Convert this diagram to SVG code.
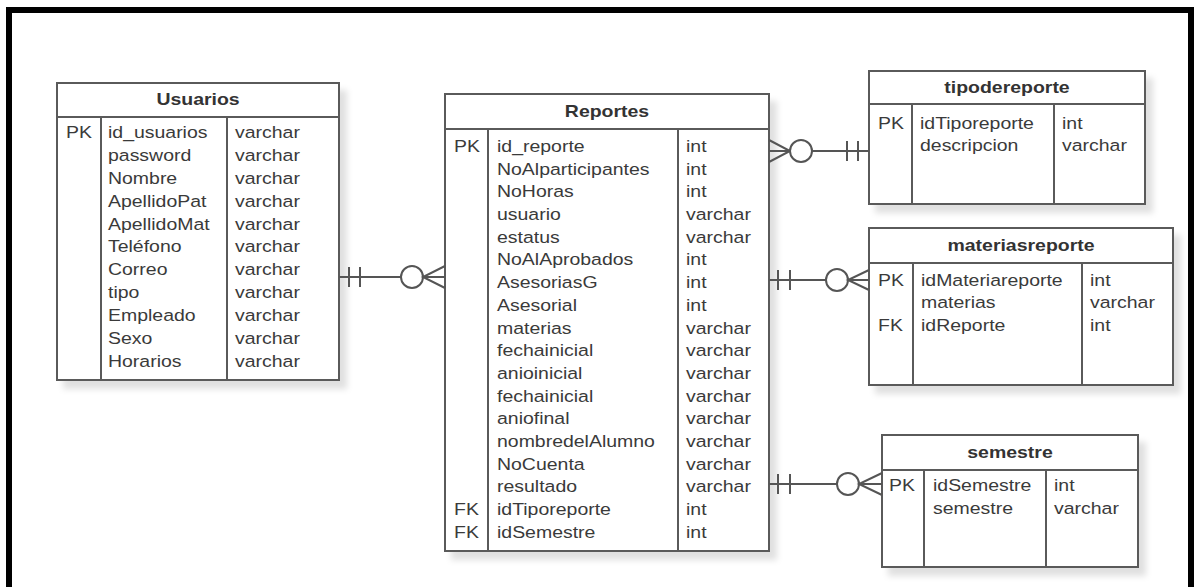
<svg xmlns="http://www.w3.org/2000/svg" width="1198" height="587" viewBox="0 0 1198 587">
<style>
.box{fill:#fff;stroke:#5a5a5a;stroke-width:2}
.ln{stroke:#5a5a5a;stroke-width:2;fill:none}
.t{font-family:"Liberation Sans",Arial,sans-serif;font-size:16.5px;fill:#3a3a3a}
.h{font-family:"Liberation Sans",Arial,sans-serif;font-size:16.5px;font-weight:bold;fill:#333;text-anchor:middle}
.c{stroke:#555;stroke-width:2;fill:none}
.o{stroke:#555;stroke-width:2;fill:#fff}
</style>
<defs>
<filter id="sh" x="-10%" y="-10%" width="130%" height="130%">
<feDropShadow dx="7" dy="8" stdDeviation="3" flood-color="#000" flood-opacity="0.12"/>
</filter>
</defs>
<rect x="0" y="0" width="1198" height="587" fill="#fff"/>
<rect x="9" y="10" width="1182" height="600" fill="none" stroke="#000" stroke-width="6"/>

<g id="Usuarios">
<rect class="box" x="57" y="83" width="282" height="297" filter="url(#sh)"/>
<line class="ln" x1="57" y1="117" x2="339" y2="117"/>
<line class="ln" x1="101" y1="117" x2="101" y2="380"/>
<line class="ln" x1="227" y1="117" x2="227" y2="380"/>
<g transform="translate(198 0) scale(1.18 1)"><text class="h" x="0" y="105.5">Usuarios</text></g>
<g transform="translate(66 0) scale(1.18 1)"><text class="t" x="0" y="138">PK</text></g>
<g transform="translate(108 0) scale(1.18 1)" class="t">
<text class="t" x="0" y="138">id_usuarios</text>
<text class="t" x="0" y="160.9">password</text>
<text class="t" x="0" y="183.8">Nombre</text>
<text class="t" x="0" y="206.7">ApellidoPat</text>
<text class="t" x="0" y="229.6">ApellidoMat</text>
<text class="t" x="0" y="252.5">Teléfono</text>
<text class="t" x="0" y="275.4">Correo</text>
<text class="t" x="0" y="298.3">tipo</text>
<text class="t" x="0" y="321.2">Empleado</text>
<text class="t" x="0" y="344.1">Sexo</text>
<text class="t" x="0" y="367">Horarios</text>
</g>
<g transform="translate(235 0) scale(1.18 1)">
<text class="t" x="0" y="138">varchar</text>
<text class="t" x="0" y="160.9">varchar</text>
<text class="t" x="0" y="183.8">varchar</text>
<text class="t" x="0" y="206.7">varchar</text>
<text class="t" x="0" y="229.6">varchar</text>
<text class="t" x="0" y="252.5">varchar</text>
<text class="t" x="0" y="275.4">varchar</text>
<text class="t" x="0" y="298.3">varchar</text>
<text class="t" x="0" y="321.2">varchar</text>
<text class="t" x="0" y="344.1">varchar</text>
<text class="t" x="0" y="367">varchar</text>
</g>
</g>

<g id="Reportes">
<rect class="box" x="445" y="94" width="324" height="457" filter="url(#sh)"/>
<line class="ln" x1="445" y1="129" x2="769" y2="129"/>
<line class="ln" x1="488" y1="129" x2="488" y2="551"/>
<line class="ln" x1="678" y1="129" x2="678" y2="551"/>
<g transform="translate(607 0) scale(1.18 1)"><text class="h" x="0" y="117">Reportes</text></g>
<g transform="translate(454 0) scale(1.18 1)">
<text class="t" x="0" y="152">PK</text>
<text class="t" x="0" y="515.2">FK</text>
<text class="t" x="0" y="537.9">FK</text>
</g>
<g transform="translate(497 0) scale(1.18 1)">
<text class="t" x="0" y="152">id_reporte</text>
<text class="t" x="0" y="174.7">NoAlparticipantes</text>
<text class="t" x="0" y="197.4">NoHoras</text>
<text class="t" x="0" y="220.1">usuario</text>
<text class="t" x="0" y="242.8">estatus</text>
<text class="t" x="0" y="265.5">NoAlAprobados</text>
<text class="t" x="0" y="288.2">AsesoriasG</text>
<text class="t" x="0" y="310.9">Asesorial</text>
<text class="t" x="0" y="333.6">materias</text>
<text class="t" x="0" y="356.3">fechainicial</text>
<text class="t" x="0" y="379">anioinicial</text>
<text class="t" x="0" y="401.7">fechainicial</text>
<text class="t" x="0" y="424.4">aniofinal</text>
<text class="t" x="0" y="447.1">nombredelAlumno</text>
<text class="t" x="0" y="469.8">NoCuenta</text>
<text class="t" x="0" y="492.5">resultado</text>
<text class="t" x="0" y="515.2">idTiporeporte</text>
<text class="t" x="0" y="537.9">idSemestre</text>
</g>
<g transform="translate(686 0) scale(1.18 1)">
<text class="t" x="0" y="152">int</text>
<text class="t" x="0" y="174.7">int</text>
<text class="t" x="0" y="197.4">int</text>
<text class="t" x="0" y="220.1">varchar</text>
<text class="t" x="0" y="242.8">varchar</text>
<text class="t" x="0" y="265.5">int</text>
<text class="t" x="0" y="288.2">int</text>
<text class="t" x="0" y="310.9">int</text>
<text class="t" x="0" y="333.6">varchar</text>
<text class="t" x="0" y="356.3">varchar</text>
<text class="t" x="0" y="379">varchar</text>
<text class="t" x="0" y="401.7">varchar</text>
<text class="t" x="0" y="424.4">varchar</text>
<text class="t" x="0" y="447.1">varchar</text>
<text class="t" x="0" y="469.8">varchar</text>
<text class="t" x="0" y="492.5">varchar</text>
<text class="t" x="0" y="515.2">int</text>
<text class="t" x="0" y="537.9">int</text>
</g>
</g>

<g id="tipodereporte">
<rect class="box" x="869" y="71" width="276" height="133" filter="url(#sh)"/>
<line class="ln" x1="869" y1="104" x2="1145" y2="104"/>
<line class="ln" x1="912" y1="104" x2="912" y2="204"/>
<line class="ln" x1="1054" y1="104" x2="1054" y2="204"/>
<g transform="translate(1007 0) scale(1.18 1)"><text class="h" x="0" y="93.5">tipodereporte</text></g>
<g transform="translate(878 0) scale(1.18 1)"><text class="t" x="0" y="129">PK</text></g>
<g transform="translate(920 0) scale(1.18 1)">
<text class="t" x="0" y="129">idTiporeporte</text>
<text class="t" x="0" y="151">descripcion</text>
</g>
<g transform="translate(1062 0) scale(1.18 1)">
<text class="t" x="0" y="129">int</text>
<text class="t" x="0" y="151">varchar</text>
</g>
</g>

<g id="materiasreporte">
<rect class="box" x="869" y="228" width="304" height="157" filter="url(#sh)"/>
<line class="ln" x1="869" y1="263" x2="1173" y2="263"/>
<line class="ln" x1="913" y1="263" x2="913" y2="385"/>
<line class="ln" x1="1082" y1="263" x2="1082" y2="385"/>
<g transform="translate(1021 0) scale(1.18 1)"><text class="h" x="0" y="251">materiasreporte</text></g>
<g transform="translate(878 0) scale(1.18 1)">
<text class="t" x="0" y="286">PK</text>
<text class="t" x="0" y="331">FK</text>
</g>
<g transform="translate(921 0) scale(1.18 1)">
<text class="t" x="0" y="286">idMateriareporte</text>
<text class="t" x="0" y="308.5">materias</text>
<text class="t" x="0" y="331">idReporte</text>
</g>
<g transform="translate(1090 0) scale(1.18 1)">
<text class="t" x="0" y="286">int</text>
<text class="t" x="0" y="308.5">varchar</text>
<text class="t" x="0" y="331">int</text>
</g>
</g>

<g id="semestre">
<rect class="box" x="882" y="435" width="256" height="132" filter="url(#sh)"/>
<line class="ln" x1="882" y1="470" x2="1138" y2="470"/>
<line class="ln" x1="924" y1="470" x2="924" y2="567"/>
<line class="ln" x1="1046" y1="470" x2="1046" y2="567"/>
<g transform="translate(1010 0) scale(1.18 1)"><text class="h" x="0" y="458">semestre</text></g>
<g transform="translate(889 0) scale(1.18 1)"><text class="t" x="0" y="491.5">PK</text></g>
<g transform="translate(933 0) scale(1.18 1)">
<text class="t" x="0" y="491.5">idSemestre</text>
<text class="t" x="0" y="514">semestre</text>
</g>
<g transform="translate(1054 0) scale(1.18 1)">
<text class="t" x="0" y="491.5">int</text>
<text class="t" x="0" y="514">varchar</text>
</g>
</g>

<g id="connectors">
<g id="c-usuarios-reportes">
<line class="c" x1="339" y1="277" x2="401" y2="277"/>
<line class="c" x1="349" y1="267" x2="349" y2="287"/>
<line class="c" x1="360" y1="267" x2="360" y2="287"/>
<circle class="o" cx="412" cy="277" r="11"/>
<path class="c" d="M445 266 L423 277 L445 288 M423 277 L445 277"/>
</g>
<g id="c-reportes-tipodereporte">
<path class="c" d="M769 140 L790 151 L769 162 M769 151 L790 151"/>
<circle class="o" cx="801" cy="151" r="11"/>
<line class="c" x1="812" y1="151" x2="869" y2="151"/>
<line class="c" x1="847" y1="141" x2="847" y2="161"/>
<line class="c" x1="858" y1="141" x2="858" y2="161"/>
</g>
<g id="c-reportes-materiasreporte">
<line class="c" x1="769" y1="280" x2="826" y2="280"/>
<line class="c" x1="778" y1="270" x2="778" y2="290"/>
<line class="c" x1="790" y1="270" x2="790" y2="290"/>
<circle class="o" cx="837" cy="280" r="11"/>
<path class="c" d="M869 270 L848 280 L869 290 M848 280 L869 280"/>
</g>
<g id="c-reportes-semestre">
<line class="c" x1="769" y1="484" x2="837" y2="484"/>
<line class="c" x1="778" y1="474" x2="778" y2="494"/>
<line class="c" x1="790" y1="474" x2="790" y2="494"/>
<circle class="o" cx="848" cy="484" r="11"/>
<path class="c" d="M882 473 L859 484 L882 495 M859 484 L882 484"/>
</g>
</g>
</svg>
